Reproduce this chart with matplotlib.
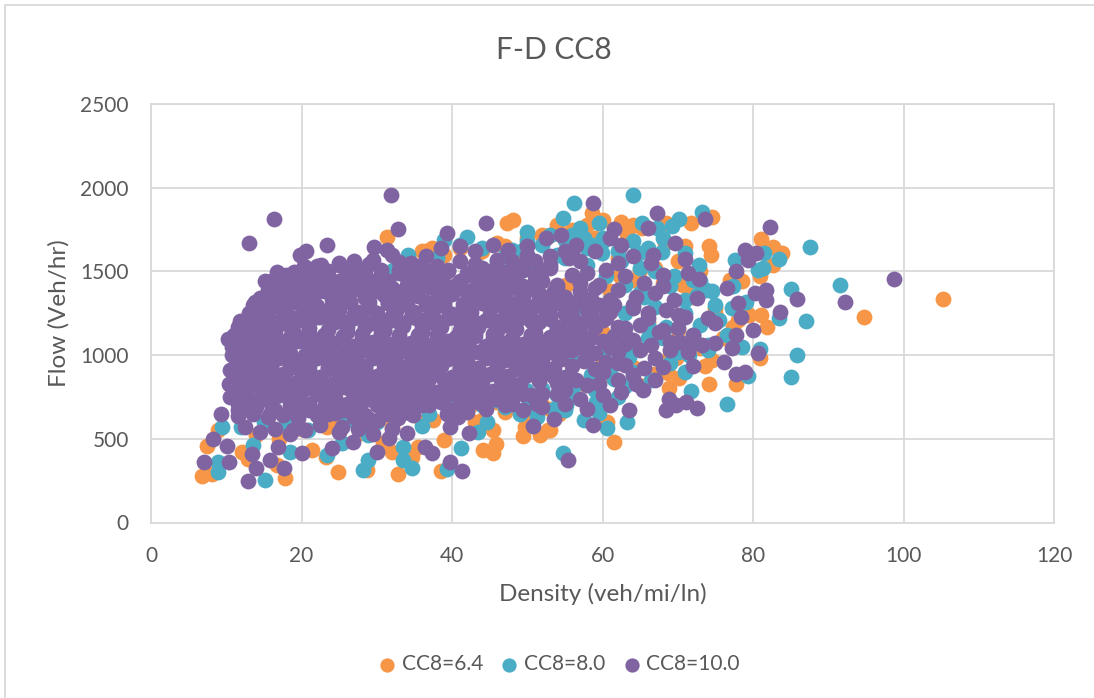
#!/usr/bin/env python3

import matplotlib
matplotlib.use('Agg')
import matplotlib.pyplot as plt
from matplotlib.patches import Rectangle

plt.rcParams['font.family'] = ['Lato', 'DejaVu Sans']

# values, one list pair per series
cc64_density = [105.2, 94.7, 61.5, 54.2, 53, 68.9, 74.1, 77.7, 80.9, 81.9,
                81, 74.2, 74.4, 74.5, 71.8, 81.1, 82.6, 83.8, 82.6, 80.9,
                78.5, 77, 58.6, 58, 62.4, 63.3, 65.2, 68.5, 68.3, 71,
                66, 66.8, 68.7, 70.2, 73.6, 74.6, 69.8, 64.9, 60.6, 79.5,
                77.3, 62.3, 55.2, 70.7, 71.6, 6.8, 8.1, 7.4, 24.8, 32.8,
                17.8, 38.6, 28.7, 21.4, 23.2, 49.4, 51.7, 52.7, 45.4, 44.1,
                45.9, 45.4, 38.9, 32, 34.7, 35.5, 16.7, 12.1, 12.9, 37.5,
                30.8, 27.8, 8.9, 23.4, 49.7, 47.3, 48.1, 31.3, 37.3, 43.4,
                48.3, 51.7, 36.5, 38, 47, 53, 56, 59, 62, 65,
                68, 72, 75, 78, 66, 60, 56, 73, 76, 70,
                40, 42.5, 44, 46, 50, 52, 54.5, 57.5, 61, 64,
                60, 63, 66, 69, 72, 75, 58, 61, 64, 67, 70, 73,
                14, 17, 20, 24, 28, 32, 36, 40, 43, 47, 50, 53,
                34, 36, 39, 41, 44, 46, 50, 52, 54, 56, 60, 64]
cc64_flow = [1335, 1230, 480, 650, 553, 805, 830, 830, 985, 1170,
             1240, 1650, 1595, 1825, 1790, 1695, 1645, 1610, 1540, 1470,
             1440, 1450, 1850, 1780, 1795, 1725, 1760, 1790, 1670, 1650,
             1630, 890, 895, 865, 935, 970, 985, 820, 600, 1240,
             1170, 1470, 1420, 1420, 1400, 278, 290, 457, 300, 290,
             265, 310, 315, 433, 392, 517, 523, 553, 415, 433,
             470, 553, 493, 422, 392, 452, 344, 422, 380, 613,
             475, 535, 553, 571, 571, 1790, 1808, 1707, 1641, 1611,
             1570, 1312, 1620, 1590, 1650, 1720, 1640, 1700, 1580, 1510,
             1430, 1350, 1280, 1210, 1070, 950, 820, 1040, 1100, 1150,
             660, 700, 610, 720, 640, 700, 770, 830, 880, 930,
             1130, 1060, 1200, 1000, 1100, 1250, 1320, 1380, 1450, 1520, 1560, 1500,
             520, 500, 560, 590, 610, 570, 600, 640, 600, 660, 610, 680,
             1560, 1620, 1600, 1640, 1620, 1670, 1700, 1720, 1780, 1750, 1810, 1780]

cc80_density = [56.2, 64.1, 54.7, 59.5, 65.3, 70.1, 73.2, 67.2, 69.2, 57,
                58.6, 59.9, 64.8, 67.9, 70.9, 72.8, 77.6, 81.5, 83.5, 87.6,
                80.6, 81.3, 85, 91.6, 83.5, 87.1, 80.9, 85.9, 85.1, 79.4,
                76.5, 71.7, 70.9, 78.6, 76.5, 79.1, 77.3, 77.2, 73.8, 72.5,
                63.2, 60.6, 57.6, 55.2, 55, 59.6, 59.2, 62, 63, 54.8,
                8.9, 8.9, 15.1, 28.2, 28.8, 23.4, 34.7, 33.5, 33.5, 39.4,
                41.2, 36, 43.4, 44.6, 49.9, 51.3, 28.8, 20.9, 25.4, 13.5,
                9.4, 18.5, 34.1, 42, 50, 49.4, 39, 32.1, 38, 39.3,
                32.1, 33.5, 49.9, 51.3, 52.6, 50.7, 36, 38, 41, 44,
                47, 50, 53, 55, 57.5, 60, 62.5, 65, 67, 69.5,
                72, 74.5, 52, 54, 56.5, 59, 61.5, 64, 66.5, 69,
                71.5, 74, 46, 48.5, 51, 53.5, 56, 58.5, 61, 63.5,
                66, 68.5, 71, 73, 75.5, 55, 58, 60.5, 63, 65.5,
                52, 54, 56, 58, 60, 62, 64, 66, 68, 70, 72, 74,
                53, 55, 57, 59, 61, 63, 65, 67, 69, 71, 73, 75,
                46, 48, 50, 52, 54, 56, 58, 60, 62, 64, 66, 68,
                12, 15, 18, 22, 26, 30, 34, 37, 41, 44, 47, 49]
cc80_flow = [1910, 1955, 1820, 1790, 1790, 1815, 1855, 1760, 1770, 1760,
             1655, 1610, 1610, 1615, 1610, 1540, 1570, 1610, 1575, 1645,
             1510, 1520, 1395, 1420, 1220, 1205, 1035, 1000, 870, 875,
             710, 785, 900, 1050, 1120, 1320, 1410, 1280, 1390, 1360,
             600, 565, 615, 700, 675, 655, 720, 750, 815, 415,
             302, 362, 254, 314, 374, 404, 326, 374, 452, 320,
             446, 577, 541, 601, 685, 631, 523, 553, 475, 463,
             571, 422, 1600, 1707, 1737, 1630, 1689, 1510, 960, 733,
             733, 714, 792, 1402, 1230, 1510, 860, 1580, 1660, 1640,
             1590, 1680, 1720, 1690, 1700, 1680, 1560, 1520, 1500, 1470,
             1450, 1380, 800, 760, 830, 790, 860, 900, 850, 950,
             1000, 1030, 730, 770, 720, 680, 750, 880, 920, 990,
             1100, 1170, 1250, 1180, 1210, 1580, 1540, 1470, 1420, 1350,
             1000, 1060, 970, 1090, 1010, 1130, 1050, 1180, 1100, 1020, 1120, 1060,
             1240, 1160, 1290, 1210, 1330, 1250, 1370, 1290, 1410, 1330, 1440, 1300,
             1560, 1630, 1600, 1660, 1600, 1720, 1640, 1700, 1620, 1680, 1640, 1700,
             570, 600, 590, 640, 610, 600, 660, 650, 680, 700, 690, 650]

cc100_density = [58.7, 67.3, 73.6, 66, 61.5, 62.5, 69.7, 66.7, 71, 62,
                 77.7, 71.3, 72.8, 68.1, 78.9, 80.4, 79.4, 82.3, 85.9, 92.2,
                 98.8, 81.7, 81.7, 80.2, 83.6, 78.4, 76.5, 78, 80, 77.8,
                 75, 75, 77.2, 80.6, 76.1, 72, 79, 77.8, 73.2, 70.3,
                 71.3, 65.4, 63.5, 68.9, 71.1, 69.8, 68.5, 72.6, 58.7, 55.4,
                 7, 8.2, 9.3, 12.9, 13.9, 10.4, 10.1, 13.4, 15.8, 17.7,
                 20.1, 16.9, 18.9, 24, 26.8, 30, 31.6, 34, 37.3, 36.4,
                 39.7, 41.3, 42.2, 39.8, 40.8, 39.3, 50.7, 51.3, 32.4, 32.8,
                 34.8, 28.7, 30.1, 25.4, 30.1, 13, 16.3, 31.9, 32.8, 23.4,
                 20.6, 19.8, 22.6, 39.4, 44.5, 31.3, 29.7, 16.7, 15.1, 13.8,
                 11.8, 10.2, 10.7, 18, 20.3, 22.5, 25, 27, 29.5, 32,
                 34.5, 36.5, 38.5, 41, 43, 45.5, 47.5, 50, 52.5, 54.5,
                 56.5, 59, 61, 64, 66.5, 17, 19, 21, 23.5, 26,
                 28, 30.5, 33, 35, 37, 39.5, 42, 44, 46.5, 48.5,
                 51, 53, 55.5, 58, 60.5, 63, 65.5, 68, 15.5, 17.5,
                 20, 22, 24, 26, 28.5, 31, 33.5, 36, 38, 40.5,
                 43, 45, 47, 49.5, 52, 54, 57, 59.5, 62, 64.5,
                 67, 69.5, 72.5, 13.5, 15, 17, 19.5, 21.5, 24, 26.5,
                 29, 31.5, 34, 36.5, 39, 41.5, 44, 46, 48.5, 50.5,
                 53.5, 56, 58.5, 61.5, 64, 66, 68.5, 71, 74, 11.5,
                 13, 15, 17.5, 20, 22, 24.5, 27, 29.5, 32, 34.5,
                 37, 39.5, 42, 44.5, 47, 49, 51.5, 54, 57, 60,
                 63, 65, 67.5, 70, 72, 11, 12.5, 14.5, 16.5, 19,
                 21, 23, 25.5, 28, 30.5, 33, 35.5, 38, 40.5, 43,
                 45.5, 48, 50.5, 53, 55.5, 58, 61, 64, 66.5, 69,
                 71.5, 10.7, 12, 14, 16, 18, 20.5, 23, 25.5, 27.5,
                 30, 32.5, 35, 37.5, 40, 42.5, 45, 47.5, 50, 52.5,
                 55, 58, 60.5, 63, 65.5, 68, 10.5, 12, 14, 16,
                 18.5, 21, 23.5, 26, 28.5, 31, 33.5, 36, 38.5, 41,
                 43.5, 46, 48.5, 51, 53.5, 56.5, 59.5, 62, 64.5, 67,
                 10.3, 12, 14, 16.5, 19, 21.5, 24, 26.5, 29, 31.5,
                 34, 36.5, 39, 41.5, 44, 46.5, 49, 51.5, 54, 57,
                 60, 62.5, 10.5, 12.5, 15, 17, 19.5, 22, 24.5, 27,
                 29.5, 32, 34.5, 37, 39.5, 42, 44.5, 47, 49.5, 52,
                 55, 58, 61, 11.5, 13.5, 16, 18.5, 21, 23.5, 26,
                 28.5, 31, 33.5, 36, 38.5, 41, 43.5, 46, 48, 50.5,
                 53.5, 12.5, 14.5, 16.5, 18.5, 20.5, 22.5, 25, 27.5, 29.5, 32]
cc100_flow = [1910, 1850, 1815, 1760, 1755, 1660, 1670, 1600, 1575, 1550,
              1505, 1490, 1455, 1480, 1630, 1610, 1570, 1765, 1335, 1320,
              1455, 1330, 1390, 1370, 1260, 1230, 1400, 1310, 1150, 1120,
              1190, 1070, 1040, 1010, 960, 935, 900, 885, 1060, 1080,
              1020, 790, 670, 740, 720, 700, 675, 685, 580, 375,
              362, 499, 650, 248, 326, 362, 457, 410, 374, 326,
              416, 452, 553, 446, 481, 422, 505, 535, 416, 452,
              362, 308, 535, 571, 631, 650, 577, 708, 685, 625,
              643, 601, 613, 571, 703, 1670, 1815, 1958, 1755, 1660,
              1623, 1600, 1540, 1731, 1790, 1630, 1648, 1498, 1444, 1318,
              1205, 1097, 1050, 1480, 1530, 1510, 1540, 1565, 1570, 1600,
              1550, 1590, 1640, 1650, 1620, 1660, 1625, 1650, 1700, 1720,
              1660, 1620, 1700, 1590, 1550, 1430, 1460, 1450, 1470, 1480,
              1490, 1480, 1510, 1470, 1490, 1500, 1480, 1520, 1490, 1530,
              1560, 1520, 1580, 1490, 1510, 1470, 1430, 1410, 1390, 1370,
              1400, 1380, 1410, 1390, 1420, 1400, 1380, 1410, 1390, 1420,
              1400, 1430, 1390, 1410, 1440, 1400, 1380, 1420, 1390, 1350,
              1370, 1330, 1340, 1300, 1320, 1290, 1310, 1330, 1300, 1320,
              1290, 1310, 1340, 1300, 1320, 1290, 1310, 1330, 1300, 1270,
              1310, 1290, 1260, 1300, 1280, 1250, 1270, 1230, 1220, 1170,
              1200, 1220, 1190, 1210, 1230, 1200, 1220, 1190, 1210, 1230,
              1200, 1220, 1190, 1210, 1180, 1220, 1200, 1170, 1190, 1210,
              1160, 1180, 1140, 1160, 1120, 1120, 1100, 1130, 1110, 1130,
              1100, 1120, 1090, 1110, 1130, 1100, 1120, 1090, 1110, 1130,
              1100, 1080, 1120, 1090, 1110, 1080, 1050, 1090, 1060, 1030,
              1050, 1000, 1020, 1040, 1010, 1030, 1000, 1020, 1040, 1010,
              1030, 1000, 1020, 1040, 1010, 1030, 1000, 1020, 980, 1010,
              1030, 990, 960, 940, 920, 930, 910, 930, 950, 920,
              940, 910, 930, 950, 920, 940, 910, 930, 950, 920,
              890, 920, 940, 900, 870, 850, 830, 850, 830, 850,
              830, 850, 830, 850, 820, 850, 830, 800, 840, 810,
              760, 770, 750, 770, 740, 760, 780, 750, 770, 740,
              760, 780, 750, 770, 740, 760, 730, 770, 740, 760,
              730, 780, 750, 700, 680, 660, 680, 700, 670, 690,
              710, 680, 700, 670, 690, 660, 700, 680, 650, 670,
              640, 700, 680, 700, 720, 690, 720, 740, 710, 760,
              620, 570, 540, 560, 530, 550, 580, 540, 560, 530, 560]

# more passes over the solid part of the purple cloud
cc100_dense_density = [14.5, 17, 19, 21.5, 24, 26, 28.5, 31, 33, 35.5, 38, 40, 42.5, 45, 47, 49.5, 52, 55,
                       13, 15.5, 18, 20.5, 23, 25, 27.5, 30, 32.5, 35, 37.5, 40, 42.5, 45, 47.5, 50, 52.5, 55, 58, 61,
                       12, 14, 16, 18.5, 21, 23.5, 26, 28.5, 31, 33.5, 36, 38.5, 41, 43.5, 46, 48.5, 51, 54, 56.5, 59, 62,
                       11.5, 13.5, 15.5, 17.5, 19.5, 22, 24.5, 27, 29.5, 32, 34.5, 37, 39.5, 42, 44.5, 47, 49.5, 52, 54.5, 57, 60, 63,
                       11.5, 13, 15, 17, 19.5, 22, 24.5, 27, 29.5, 32, 34.5, 37, 39.5, 42, 44.5, 47, 49.5, 52, 54.5, 57.5,
                       11, 13, 15, 17.5, 20, 22.5, 25, 27.5, 30, 32.5, 35, 37.5, 40, 42.5, 45, 47.5, 50, 52.5, 55,
                       11, 13, 15.5, 18, 20.5, 23, 25.5, 28, 30.5, 33, 35.5, 38, 40.5, 43, 45.5, 48,
                       11.5, 13.5, 16, 18.5, 21, 23.5, 26, 28.5, 31, 33.5, 36, 38.5, 41, 43.5, 46,
                       11.5, 13.5, 15.5, 17.5, 19.5, 22, 24.5, 27, 29, 31.5, 34,
                       16, 18, 20, 22.5, 25, 27, 29, 31.5, 34, 36, 38, 41, 43.5, 46, 48.5, 51,
                       22, 25, 27, 29, 33, 36, 38, 41, 43, 46, 50, 53, 56,
                       64, 66, 68, 70, 63, 65, 67, 69, 62, 60, 64, 58, 55, 52, 61, 59, 56, 53, 50, 48, 55, 57,
                       16.5, 18.5, 21, 23, 25.5, 27.5, 30, 32, 34.5, 37, 39, 41.5, 44, 46, 48.5, 51, 53.5,
                       14, 16, 18, 20, 22, 24.5, 26.5, 29, 31.5, 34, 36.5, 39, 41.5, 44, 46.5, 48.5, 51, 53.5, 56.5, 59.5,
                       12.5, 14.5, 16.5, 19, 21, 24, 26, 28, 30.5, 33, 35.5, 38, 40.5, 43, 45.5, 48, 50.5, 53, 55.5, 58, 60.5,
                       11.5, 13, 14.5, 16.5, 18.5, 21, 23, 25.5, 28, 30.5, 33, 35.5, 38, 40.5, 43, 45.5, 48, 50.5, 53, 55.5, 58.5, 61.5,
                       11, 12.5, 14, 16, 18.5, 21, 23.5, 26, 28.5, 31, 33.5, 36, 38.5, 41, 43.5, 46, 48.5, 51, 53.5, 56, 59, 62,
                       11, 12.5, 14, 16, 18.5, 21, 23.5, 26, 28.5, 31, 33.5, 36, 38.5, 41, 43.5, 46, 48.5, 51, 53.5, 56, 59,
                       11, 12.5, 14, 16.5, 19, 21.5, 24, 26.5, 29, 31.5, 34, 36.5, 39, 41.5, 44, 46.5, 49, 51.5, 54,
                       11, 12.5, 14.5, 17, 19.5, 22, 24.5, 27, 29.5, 32, 34.5, 37, 39.5, 42, 44.5, 47, 49.5,
                       12, 14, 16.5, 19, 21, 23, 25.5, 27.5, 30, 32.5, 35,
                       17, 19, 21, 23.5, 26, 28.5, 30.5, 33, 35, 37.5, 39.5, 42, 45, 47, 49.5, 52,
                       15.5, 20, 25, 29.5, 34, 39, 43.5, 48, 51, 54, 57,
                       14.5, 19.5, 24, 29, 33.5, 38.5, 43, 47, 51.5, 55, 58.5,
                       13, 17.5, 22.5, 27, 32, 37, 42, 47, 50, 53, 56,
                       12.5, 16.5, 21, 26, 31, 36, 41, 46, 51, 54, 57,
                       12, 16, 21, 26, 30.5, 35.5, 41, 46, 50.5, 54, 57,
                       12, 16, 20.5, 26, 31, 36, 41, 46, 49, 52,
                       12, 17, 22, 27, 32, 37, 42, 46.5]
cc100_dense_flow = [1340, 1360, 1350, 1345, 1365, 1350, 1340, 1360, 1345, 1355, 1340, 1365, 1350, 1345, 1360, 1340, 1355, 1345,
                    1250, 1270, 1255, 1265, 1245, 1270, 1260, 1250, 1265, 1255, 1270, 1245, 1260, 1270, 1250, 1265, 1255, 1245, 1270, 1260,
                    1160, 1170, 1155, 1175, 1160, 1150, 1170, 1165, 1155, 1175, 1160, 1170, 1150, 1165, 1175, 1155, 1170, 1160, 1150, 1170, 1165,
                    1065, 1080, 1060, 1075, 1085, 1065, 1070, 1055, 1080, 1065, 1075, 1060, 1085, 1070, 1055, 1075, 1065, 1080, 1060, 1070, 1085, 1065,
                    970, 985, 965, 980, 960, 985, 975, 965, 980, 970, 960, 985, 975, 965, 980, 970, 960, 985, 975, 965,
                    880, 895, 875, 890, 880, 870, 895, 885, 875, 890, 880, 895, 870, 885, 890, 875, 880, 895, 870,
                    795, 810, 790, 805, 795, 785, 810, 800, 790, 805, 795, 780, 810, 800, 785, 805,
                    710, 725, 715, 730, 710, 720, 705, 730, 715, 725, 710, 730, 720, 735, 745,
                    635, 650, 630, 645, 625, 640, 655, 630, 620, 650, 660,
                    1445, 1460, 1440, 1455, 1445, 1465, 1450, 1440, 1460, 1445, 1455, 1440, 1465, 1450, 1460, 1480,
                    1535, 1550, 1530, 1545, 1555, 1540, 1530, 1560, 1545, 1570, 1575, 1590, 1610,
                    1300, 1220, 1150, 1240, 1120, 1030, 980, 1080, 950, 900, 880, 820, 790, 770, 1330, 1400, 1480, 1540, 1600, 1560, 1620, 1560,
                    1390, 1405, 1395, 1385, 1405, 1395, 1385, 1400, 1390, 1405, 1385, 1395, 1405, 1385, 1400, 1390, 1385,
                    1295, 1310, 1300, 1315, 1295, 1305, 1315, 1295, 1310, 1300, 1315, 1295, 1305, 1315, 1300, 1310, 1295, 1305, 1315, 1300,
                    1205, 1215, 1200, 1220, 1205, 1215, 1200, 1220, 1210, 1200, 1215, 1205, 1220, 1200, 1210, 1220, 1205, 1215, 1200, 1210, 1220,
                    1110, 1125, 1105, 1120, 1110, 1125, 1105, 1115, 1125, 1105, 1120, 1110, 1125, 1105, 1115, 1125, 1105, 1120, 1110, 1125, 1105, 1115,
                    1015, 1030, 1010, 1025, 1015, 1030, 1010, 1020, 1030, 1010, 1025, 1015, 1030, 1010, 1020, 1030, 1010, 1025, 1015, 1030, 1010, 1020,
                    920, 935, 915, 930, 920, 935, 915, 925, 935, 915, 930, 920, 935, 915, 925, 935, 915, 930, 920, 935, 915,
                    835, 850, 830, 845, 835, 850, 830, 840, 850, 830, 845, 835, 850, 830, 840, 850, 830, 845, 835,
                    750, 765, 745, 760, 750, 765, 745, 755, 765, 745, 760, 750, 765, 745, 755, 765, 770,
                    675, 690, 670, 685, 675, 690, 670, 680, 700, 690, 705,
                    1480, 1495, 1485, 1500, 1490, 1500, 1510, 1490, 1505, 1495, 1510, 1490, 1505, 1495, 1510, 1500,
                    1420, 1425, 1415, 1430, 1420, 1425, 1415, 1430, 1440, 1420, 1430,
                    1330, 1325, 1335, 1320, 1330, 1325, 1335, 1320, 1330, 1325, 1335,
                    1235, 1240, 1230, 1245, 1235, 1230, 1240, 1235, 1230, 1240, 1235,
                    1140, 1145, 1135, 1140, 1145, 1135, 1140, 1145, 1135, 1140, 1145,
                    1045, 1050, 1040, 1045, 1050, 1040, 1045, 1050, 1040, 1045, 1050,
                    950, 955, 945, 950, 955, 945, 950, 955, 945, 950,
                    860, 865, 855, 860, 865, 855, 860, 865]

series = [('CC8=6.4', cc64_density, cc64_flow, '#F79646'),
          ('CC8=8.0', cc80_density, cc80_flow, '#4BACC6'),
          ('CC8=10.0', cc100_density + cc100_dense_density,
           cc100_flow + cc100_dense_flow, '#8064A2')]

text_color = '#595959'
grid_color = '#D9D9D9'

fig = plt.figure(figsize=(10.94, 6.98), dpi=100)
ax = fig.add_axes([151 / 1094, 1 - 522.5 / 698, 903 / 1094, 418.5 / 698])

for name, x, y, color in series:
    ax.scatter(x, y, s=130, color=color, linewidths=0, label=name, zorder=3)

ax.set_xlim(0, 120)
ax.set_ylim(0, 2500)
ax.set_xticks(range(0, 121, 20))
ax.set_yticks(range(0, 2501, 500))
ax.grid(True, color=grid_color, linewidth=1.3)
ax.set_axisbelow(True)
ax.tick_params(length=0, labelsize=15, labelcolor=text_color)
ax.tick_params(axis='x', pad=17)
ax.tick_params(axis='y', pad=16)
for side in ['top', 'right', 'left', 'bottom']:
    ax.spines[side].set_color(grid_color)
    ax.spines[side].set_linewidth(1.3)

fig.text(554 / 1094, 1 - 50 / 698, 'F-D CC8', fontsize=21.5, color=text_color,
         ha='center', va='center')
ax.set_xlabel('Density (veh/mi/ln)', fontsize=17.5, color=text_color, labelpad=12)
ax.set_ylabel('Flow (Veh/hr)', fontsize=17.5, color=text_color, labelpad=8)

fig.legend(loc='center', bbox_to_anchor=(553 / 1094, 1 - 664 / 698), ncol=3,
           frameon=False, fontsize=15, labelcolor=text_color, handletextpad=-0.3,
           columnspacing=0.26, markerscale=0.9)

# thin chart border like the spreadsheet frame
fig.add_artist(Rectangle((5 / 1094, -0.01), 1.1, 1 - 5 / 698 + 0.01,
                         transform=fig.transFigure, fill=False,
                         edgecolor=grid_color, linewidth=1.3))

plt.savefig('out.png', dpi=100)
plt.close()
